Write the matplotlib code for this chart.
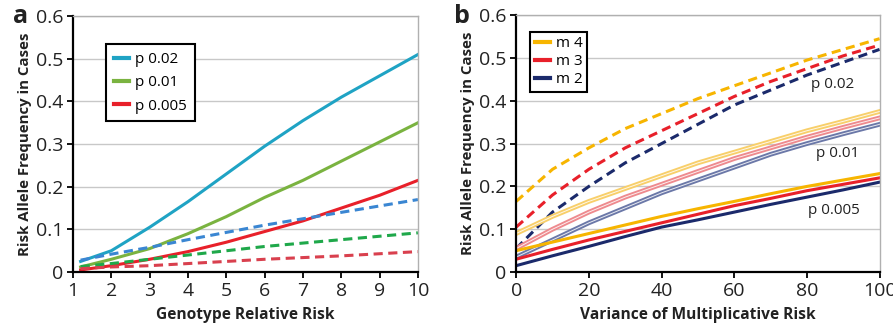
import matplotlib
matplotlib.use("Agg")
import matplotlib.pyplot as plt

plt.rcParams['font.family'] = ['Open Sans', 'DejaVu Sans']

# Panel a data
grr = [1.2, 2, 3, 4, 5, 6, 7, 8, 9, 10]
a_p02_solid = [0.025, 0.050, 0.105, 0.165, 0.230, 0.295, 0.355, 0.410, 0.460, 0.510]
a_p01_solid = [0.012, 0.030, 0.055, 0.090, 0.130, 0.175, 0.215, 0.260, 0.305, 0.350]
a_p005_solid = [0.005, 0.015, 0.030, 0.048, 0.070, 0.095, 0.120, 0.150, 0.180, 0.215]
a_p02_dash = [0.028, 0.042, 0.058, 0.076, 0.093, 0.110, 0.125, 0.140, 0.155, 0.170]
a_p01_dash = [0.013, 0.020, 0.030, 0.040, 0.050, 0.060, 0.068, 0.076, 0.084, 0.092]
a_p005_dash = [0.008, 0.012, 0.015, 0.020, 0.025, 0.030, 0.034, 0.038, 0.043, 0.048]
a_labels = ['p 0.02', 'p 0.01', 'p 0.005']

# Panel b data
var = [0, 10, 20, 30, 40, 50, 60, 70, 80, 90, 100]
b_m4_p02 = [0.165, 0.240, 0.290, 0.335, 0.370, 0.405, 0.435, 0.465, 0.495, 0.520, 0.545]
b_m3_p02 = [0.105, 0.180, 0.240, 0.290, 0.330, 0.370, 0.410, 0.445, 0.475, 0.505, 0.530]
b_m2_p02 = [0.055, 0.140, 0.200, 0.255, 0.300, 0.345, 0.390, 0.425, 0.460, 0.490, 0.520]
b_m4_p01 = [0.090, 0.130, 0.165, 0.195, 0.225, 0.255, 0.280, 0.305, 0.330, 0.352, 0.375]
b_m3_p01 = [0.055, 0.100, 0.140, 0.175, 0.205, 0.235, 0.265, 0.290, 0.315, 0.338, 0.360]
b_m2_p01 = [0.035, 0.075, 0.115, 0.150, 0.185, 0.215, 0.245, 0.275, 0.300, 0.323, 0.345]
b_m4_p005 = [0.050, 0.070, 0.090, 0.110, 0.130, 0.148, 0.165, 0.183, 0.200, 0.215, 0.230]
b_m3_p005 = [0.030, 0.053, 0.075, 0.095, 0.115, 0.135, 0.155, 0.172, 0.190, 0.205, 0.220]
b_m2_p005 = [0.015, 0.038, 0.060, 0.083, 0.105, 0.122, 0.140, 0.158, 0.175, 0.192, 0.210]
b_labels = ['m 4', 'm 3', 'm 2']
b_annot = ['p 0.02', 'p 0.01', 'p 0.005']

fig = plt.figure(figsize=(8.93, 3.29), dpi=100)
ax1 = fig.add_axes([0.0817, 0.173, 0.3863, 0.778])
ax2 = fig.add_axes([0.578, 0.173, 0.407, 0.781])

def style(ax):
    ax.set_ylim(0, 0.6)
    ax.set_yticks([0, 0.1, 0.2, 0.3, 0.4, 0.5, 0.6])
    ax.set_yticklabels(['0', '0.1', '0.2', '0.3', '0.4', '0.5', '0.6'])
    ax.grid(axis='y', color='#c8c8c8', linewidth=1.0)
    ax.set_axisbelow(True)
    for s in ['top', 'right']:
        ax.spines[s].set_color('#b0b0b0')
        ax.spines[s].set_linewidth(1.0)
    for s in ['left', 'bottom']:
        ax.spines[s].set_color('black')
        ax.spines[s].set_linewidth(1.6)
    ax.tick_params(axis='both', direction='out', length=4, width=1.3,
                   labelsize=14, colors='black', labelcolor='#222222', pad=3)
    ax.set_ylabel('Risk Allele Frequency in Cases', fontsize=10.8, fontweight='bold', color='#222222', labelpad=3)

dash = (0, (3, 1.8))
lw = 2.2
# Panel a
ax1.plot(grr, a_p02_solid, color='#1fa3c4', lw=lw, label=a_labels[0])
ax1.plot(grr, a_p01_solid, color='#7ab340', lw=lw, label=a_labels[1])
ax1.plot(grr, a_p005_solid, color='#e8202a', lw=lw, label=a_labels[2])
ax1.plot(grr, a_p02_dash, color='#3a86d2', lw=lw, ls=dash)
ax1.plot(grr, a_p01_dash, color='#1fa84a', lw=lw, ls=dash)
ax1.plot(grr, a_p005_dash, color='#d9404e', lw=lw, ls=dash)
ax1.set_xlim(1, 10)
ax1.set_xticks(range(1, 11))
style(ax1)
ax1.set_xlabel('Genotype Relative Risk', fontsize=11.2, fontweight='bold', color='#222222', labelpad=5)
leg1 = ax1.legend(loc='upper left', bbox_to_anchor=(0.075, 0.92), fontsize=11, frameon=True,
                  fancybox=False, edgecolor='black', handlelength=1.0, handletextpad=0.4,
                  borderpad=0.5, labelspacing=0.55, framealpha=1)
leg1.get_frame().set_linewidth(1.5)
for l in leg1.get_lines():
    l.set_linewidth(3)
fig.text(0.015, 0.93, 'a', fontsize=18, fontweight='bold', color='#222222')

# Panel b
cols = {'m4': '#f7b500', 'm3': '#e8202a', 'm2': '#1b2a6b'}
light = {'m4': '#f8cf6a', 'm3': '#ee8a8e', 'm2': '#6b78a8'}
ax2.plot(var, b_m4_p02, color=cols['m4'], lw=lw, ls=dash)
ax2.plot(var, b_m3_p02, color=cols['m3'], lw=lw, ls=dash)
ax2.plot(var, b_m2_p02, color=cols['m2'], lw=lw, ls=dash)
for key, ys in [('m4', b_m4_p01), ('m3', b_m3_p01), ('m2', b_m2_p01)]:
    ax2.plot(var, ys, color=light[key], lw=3.4)
    ax2.plot(var, ys, color='white', lw=0.7, alpha=0.85)
ax2.plot(var, b_m4_p005, color=cols['m4'], lw=lw, label=b_labels[0])
ax2.plot(var, b_m3_p005, color=cols['m3'], lw=lw, label=b_labels[1])
ax2.plot(var, b_m2_p005, color=cols['m2'], lw=lw, label=b_labels[2])
ax2.set_xlim(0, 100)
ax2.set_xticks([0, 20, 40, 60, 80, 100])
style(ax2)
ax2.set_xlabel('Variance of Multiplicative Risk', fontsize=11.2, fontweight='bold', color='#222222', labelpad=5)
leg2 = ax2.legend(loc='upper left', bbox_to_anchor=(0.017, 0.965), fontsize=11, frameon=True,
                  fancybox=False, edgecolor='black', handlelength=1.0, handletextpad=0.4,
                  borderpad=0.3, labelspacing=0.2, framealpha=1)
leg2.get_frame().set_linewidth(1.5)
for l in leg2.get_lines():
    l.set_linewidth(3)
for (xx, yy), t in zip([(87, 0.438), (88.5, 0.277), (87.5, 0.143)], b_annot):
    ax2.text(xx, yy, t, fontsize=11, color='#222222', ha='center', va='center')
fig.text(0.508, 0.93, 'b', fontsize=18, fontweight='bold', color='#222222')

fig.savefig('out.png', dpi=100)
